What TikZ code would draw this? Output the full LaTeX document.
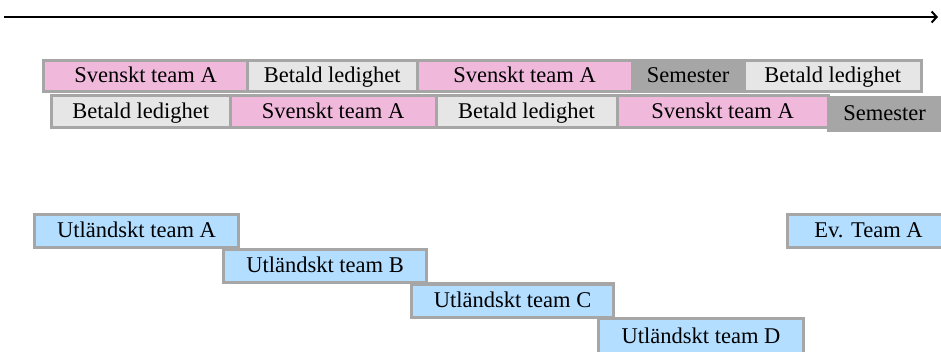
\documentclass[tikz,border=0pt]{standalone}
\usepackage{fontspec}
\setmainfont{Liberation Serif}
\usetikzlibrary{positioning, arrows.meta}
\definecolor{rim}{HTML}{A6A6A6}
\definecolor{svpink}{HTML}{F0B9DC}
\definecolor{ledig}{HTML}{E6E6E6}
\definecolor{semgray}{HTML}{A6A6A6}
\definecolor{utblue}{HTML}{B3DEFF}

\begin{document}
\begin{tikzpicture}[x=1pt,y=-1pt,
        bar/.style={draw=rim, line width=3pt, inner sep=0pt, outer sep=0pt,
            text height=16pt, text depth=3pt,
            font=\fontsize{22.5}{26}\selectfont},
        sv/.style={bar, fill=svpink},
        bl/.style={bar, fill=ledig},
        sem/.style={bar, fill=semgray},
        ut/.style={bar, fill=utblue, minimum height=33pt}]
        \useasboundingbox (0,0) rectangle (941,352);

        % time axis
        \coordinate (t0) at (4,17);
        \coordinate (t1) at (938,17);
        \draw[line width=2pt, -{Straight Barb[length=5pt,width=11pt]}] (t0) -- (t1);

        % swedish team, first row
        \node (s1) [sv, minimum width=204pt, minimum height=31pt, anchor=north west] at (43.5,61) {Svenskt team A};
        \node (b1) [bl, minimum width=169.5pt, minimum height=31pt, right=0pt of s1] {Betald ledighet};
        \node (s2) [sv, minimum width=215pt, minimum height=31pt, right=0pt of b1] {Svenskt team A};
        \node (m1) [sem, minimum width=112pt, minimum height=31pt, right=0pt of s2] {Semester};
        \node (b2) [bl, minimum width=177.5pt, minimum height=31pt, right=0pt of m1] {Betald ledighet};

        % swedish team, second row
        \node (b3) [bl, minimum width=178.5pt, minimum height=32pt, anchor=north west] at (51.5,96) {Betald ledighet};
        \node (s3) [sv, minimum width=206pt, minimum height=32pt, right=0pt of b3] {Svenskt team A};
        \node (b4) [bl, minimum width=181pt, minimum height=32pt, right=0pt of s3] {Betald ledighet};
        \node (s4) [sv, minimum width=211pt, minimum height=32pt, right=0pt of b4] {Svenskt team A};
        \node (m2) [sem, minimum width=113pt, minimum height=33pt, anchor=north west] at (828,97.5) {Semester};

        % foreign teams
        \node (uA) [ut, minimum width=204pt, anchor=north west] at (34.5,214.5) {Utländskt team A};
        \node (uB) [ut, minimum width=203pt, anchor=north west] at (223.5,249.5) {Utländskt team B};
        \node (uC) [ut, minimum width=202pt, anchor=north west] at (411.5,284) {Utländskt team C};
        \node (uD) [ut, minimum width=205pt, minimum height=36pt, anchor=north west] at (598.5,318.5) {Utländskt team D};
        \node (ev) [ut, minimum width=162pt, anchor=north west] at (787.5,214.5) {Ev. Team A};
\end{tikzpicture}
\end{document}
